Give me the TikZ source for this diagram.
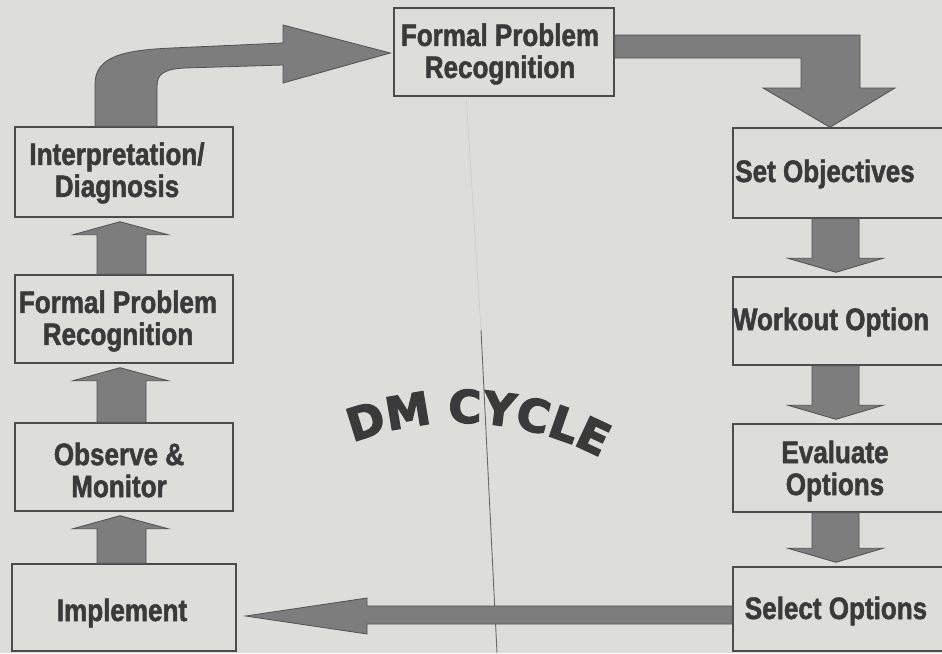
\documentclass[tikz,border=0pt]{standalone}
\usepackage{fontspec}
\usetikzlibrary{calc,decorations.text}

% condensed heavy grotesque for the stage labels, black face for the title
\newfontfamily\boxfont{Liberation Sans Bold}[FakeStretch=0.84, FakeBold=1.6]
\newfontfamily\dmfont{DejaVu Sans Bold}[FakeBold=3]

\definecolor{paper}{RGB}{221,221,218}
\definecolor{ink}{RGB}{58,58,58}
\definecolor{boxline}{RGB}{75,75,75}
\definecolor{arrowfill}{RGB}{125,125,125}
\definecolor{arrowline}{RGB}{80,80,80}
\definecolor{rulegray}{RGB}{105,105,105}

\tikzset{
  stagebox/.style={draw=boxline, line width=1.4pt, rectangle, inner sep=0pt},
  stagetext/.style={text=ink, font=\boxfont\fontsize{31}{32}\selectfont,
                    align=center, inner sep=0pt},
  blockarrow/.style={fill=arrowfill, draw=arrowline, line width=0.8pt, line join=miter},
}

% broad upward arrow in the left column: lower node #1 to upper node #2
\newcommand\riseblock[2]{%
  \filldraw[blockarrow] (#1.north -| 97,0) -- ($(#2.south -| 97,0)+(0,17)$)
    -- ($(#2.south -| 73,0)+(0,17)$) -- ($(#2.south -| 120,0)+(0,4)$)
    -- ($(#2.south -| 168,0)+(0,17)$) -- ($(#2.south -| 146,0)+(0,17)$)
    -- (#1.north -| 146,0) -- cycle;}

% broad downward arrow in the right column: upper node #1 to lower node #2
\newcommand\dropblock[2]{%
  \filldraw[blockarrow] (#1.south -| 812,0) -- ($(#2.north -| 812,0)+(0,-18)$)
    -- ($(#2.north -| 788,0)+(0,-18)$) -- ($(#2.north -| 836,0)+(0,-4)$)
    -- ($(#2.north -| 883,0)+(0,-18)$) -- ($(#2.north -| 859,0)+(0,-18)$)
    -- (#1.south -| 859,0) -- cycle;}

\begin{document}
\begin{tikzpicture}[x=1pt, y=-1pt]
  \useasboundingbox (0,0) rectangle (942,653);
  \clip (0,0) rectangle (942,653);
  \fill[paper] (0,0) rectangle (942,653);

  % column rule running through the page
  \draw[rulegray!35, line width=0.6pt] (466,95) -- (481,330);
  \draw[rulegray, line width=0.9pt] (481,330) -- (497,653);

  % stage boxes
  \node[stagebox, minimum width=220, minimum height=88] (tb) at (504,52) {};
  \node[stagebox, minimum width=218, minimum height=90] (ib) at (124,172) {};
  \node[stagebox, minimum width=218, minimum height=88] (fl) at (124,319) {};
  \node[stagebox, minimum width=218, minimum height=88] (ob) at (124,467) {};
  \node[stagebox, minimum width=224, minimum height=87] (im) at (124,607.5) {};
  \node[stagebox, minimum width=227, minimum height=90] (so) at (846.5,173) {};
  \node[stagebox, minimum width=227, minimum height=88] (wo) at (846.5,321) {};
  \node[stagebox, minimum width=227, minimum height=88] (ev) at (846.5,468) {};
  \node[stagebox, minimum width=227, minimum height=84] (sl) at (846.5,609) {};

  % curved arrow from Interpretation/Diagnosis to the top box
  \filldraw[blockarrow] (ib.north -| 95,0) -- (95,84)
    .. controls (95,56) and (125,50) .. (172,48) -- (283,43) -- (283,25)
    -- ($(tb.west)+(-3,1)$) -- (283,83) -- (283,65) -- (185,68)
    .. controls (164,69) and (157,74) .. (157,86) -- (ib.north -| 157,0) -- cycle;

  % elbow arrow from the top box down to Set Objectives
  \filldraw[blockarrow] (tb.east |- 0,35) -- (860,35) -- (860,88) -- (895,88)
    -- (so.north -| 830,0) -- (763,88) -- (801,88) -- (801,58)
    -- (tb.east |- 0,58) -- cycle;

  % right column, downwards
  \dropblock{so}{wo}
  \dropblock{wo}{ev}
  \dropblock{ev}{sl}

  % long arrow from Select Options back to Implement
  \filldraw[blockarrow] (sl.west |- 0,606) -- (367,606) -- (367,598)
    -- ($(im.east |- 0,616)+(9,0)$) -- (367,634) -- (367,624)
    -- (sl.west |- 0,624) -- cycle;

  % left column, upwards
  \riseblock{im}{ob}
  \riseblock{ob}{fl}
  \riseblock{fl}{ib}

  % stage labels
  \node[stagetext] (tb-t) at (500,54) {Formal Problem\\Recognition};
  \node[stagetext] (ib-t) at (117,173) {Interpretation/\\Diagnosis};
  \node[stagetext] (fl-t) at (118,321) {Formal Problem\\Recognition};
  \node[stagetext] (ob-t) at (119,470) {Observe \&\\Monitor};
  \node[stagetext] (im-t) at (122,613) {Implement};
  \node[stagetext] (so-t) at (825,174) {Set Objectives};
  \node[stagetext] (wo-t) at (831,322) {Workout Option};
  \node[stagetext] (ev-t) at (835,471) {Evaluate\\Options};
  \node[stagetext] (sl-t) at (836,611) {Select Options};

  % arched title
  \path[decorate, decoration={text along path, text align=center, text color=ink,
        text={|\dmfont\fontsize{45}{45}\selectfont|DM CYCLE}}]
    (350,443.6) arc[start angle=-111.5, end angle=-61.5, radius=300];
\end{tikzpicture}
\end{document}
